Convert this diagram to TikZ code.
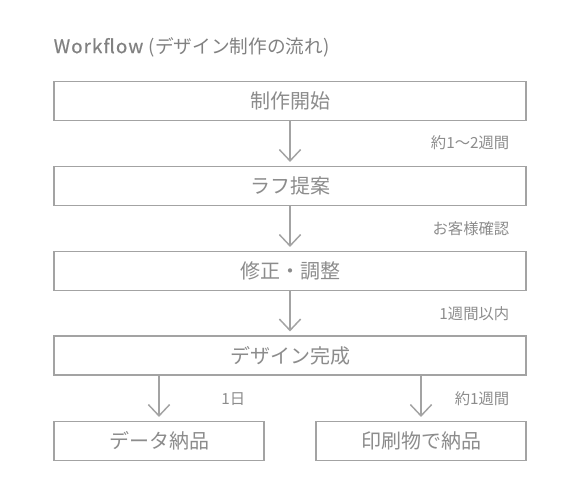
\documentclass[tikz,border=0pt]{standalone}
\usepackage{fontspec}
\setmainfont{Noto Sans CJK JP}
\usetikzlibrary{arrows.meta}
\definecolor{flowgray}{HTML}{A3A3A3}
\definecolor{textgray}{HTML}{8C8C8C}
\tikzset{every picture/.style={line width=1.1pt}}

\begin{document}
\begin{tikzpicture}[x=0.75pt,y=0.75pt,yscale=-1,xscale=1,
  stepbox/.style={draw=flowgray, fill=white, minimum height=29pt, inner sep=0pt, text=textgray, font=\fontsize{15}{18}\selectfont},
  widebox/.style={stepbox, minimum width=354pt},
  halfbox/.style={stepbox, minimum width=157.5pt},
  flowarrow/.style={draw=flowgray, -{Straight Barb[length=8.5pt,width=16pt]}, shorten >=3pt},
  timelabel/.style={text=textgray, font=\fontsize{11.5}{14}\selectfont, anchor=east, inner sep=0pt}]
  \useasboundingbox (0,0) rectangle (580,500);

  %Title
  \node[anchor=west, inner sep=0pt, text=textgray!110, font=\fontsize{14}{17}\selectfont] (title) at (53,47) {{\addfontfeature{LetterSpace=6,FakeBold=0.6}Workflow}\hspace{0.3em}(デザイン制作の流れ)};

  %Boxes
  \node[widebox] (start) at (290,101) {制作開始};
  \node[widebox] (rough) at (290,186) {ラフ提案};
  \node[widebox] (fix) at (290,271) {修正・調整};
  \node[widebox] (design) at (290,355.5) {デザイン完成};
  \node[halfbox] (data) at (159,441) {データ納品};
  \node[halfbox] (print) at (421,441) {印刷物で納品};

  %Arrows
  \draw[flowarrow] (start) -- (rough);
  \draw[flowarrow] (rough) -- (fix);
  \draw[flowarrow] (fix) -- (design);
  \draw[flowarrow] (data.north |- design.south) -- (data.north);
  \draw[flowarrow] (print.north |- design.south) -- (print.north);

  %Labels
  \node[timelabel] (t1) at (510,143) {約1〜2週間};
  \node[timelabel] (t2) at (510,229) {お客様確認};
  \node[timelabel] (t3) at (510,314) {1週間以内};
  \node[timelabel] (t4) at (246,399) {1日};
  \node[timelabel] (t5) at (510,399) {約1週間};

\end{tikzpicture}
\end{document}
